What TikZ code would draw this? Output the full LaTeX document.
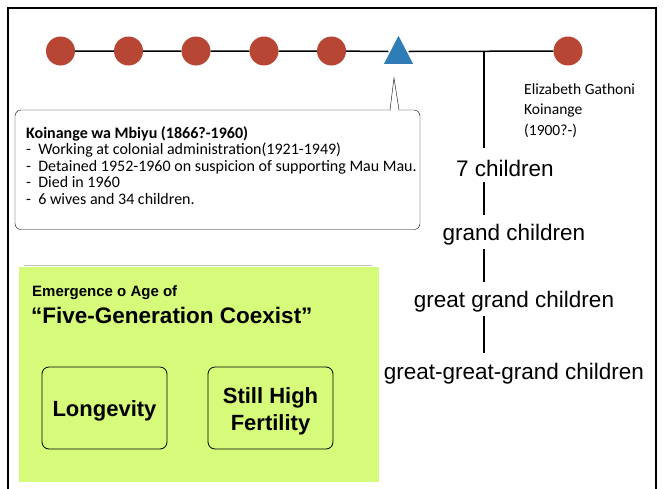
\documentclass[tikz,border=0pt]{standalone}
\usepackage{fontspec}
\setmainfont{Liberation Sans}
\newfontfamily\calibri{Carlito}
\usetikzlibrary{shapes.geometric}
\definecolor{dotred}{RGB}{183,71,52}
\definecolor{triblue}{RGB}{46,125,182}
\definecolor{panelgreen}{RGB}{214,250,122}

\begin{document}
\begin{tikzpicture}[x=1pt,y=-1pt]
    \tikzstyle{dot}=[circle,fill=dotred,minimum size=29pt,inner sep=0pt]
    \tikzstyle{tri}=[isosceles triangle,isosceles triangle stretches,shape border rotate=90,fill=triblue,minimum width=29pt,minimum height=28pt,inner sep=0pt]
    \tikzstyle{gen}=[font=\fontsize{22.5}{26}\selectfont,inner sep=0pt]
    \tikzstyle{link}=[line width=1.5pt]
    \tikzstyle{factor}=[draw,thick,rounded corners=7pt,minimum width=125pt,minimum height=82pt,align=center,text depth=0pt,font=\bfseries\fontsize{22}{27}\selectfont]
    \useasboundingbox (0,0) rectangle (664,488);
    % frame
    \draw[line width=2pt] (8,490) -- (8,8) -- (656,8) -- (656,490);
    % ancestors line
    \node[dot] (c1) at (60.5,51){};
    \node[dot] (c2) at (128.5,51){};
    \node[dot] (c3) at (196,51){};
    \node[dot] (c4) at (264,51){};
    \node[dot] (c5) at (331.5,51){};
    \node[tri] (k) at (398.5,55){};
    \node[dot] (w) at (568,51){};
    \coordinate (j) at (484,51.5);
    \draw[link] (c1) -- (c2) -- (c3) -- (c4) -- (c5) -- (k.west |- j) (k.east |- j) -- (w);
    \node[anchor=base west,align=left,inner sep=0pt,font=\calibri\fontsize{15.5}{20.5}\selectfont] (eg) at (524,135){Elizabeth Gathoni\\Koinange\\(1900?-)};
    % callout
    \draw[fill=white,rounded corners=6pt] (15,110) rectangle (420,229.5);
    \fill[white] (390.5,108) rectangle (398.5,112);
    \draw (390,110) -- (394,78) -- (399,110);
    \node[anchor=base west,align=left,inner sep=0pt,font=\calibri\fontsize{16}{16.5}\selectfont] (kwm) at (26,204){\textbf{Koinange wa Mbiyu (1866?-1960)}\\
      -\ \ Working at colonial administration(1921-1949)\\
      -\ \ Detained 1952-1960 on suspicion of supporting Mau Mau.\\
      -\ \ Died in 1960\\
      -\ \ 6 wives and 34 children.};
    % generations
    \node[gen] (g1) at (505,168){7 children};
    \node[gen] (g2) at (514,235){grand children};
    \node[gen] (g3) at (514,302){great grand children};
    \node[gen] (g4) at (514,374){great-great-grand children};
    \draw[link] (j) -- (484,148);
    \draw[link] (484,182) -- (484,215);
    \draw[link] (484,249) -- (484,282);
    \draw[link] (484,316) -- (484,353);
    % panel
    \draw[black!25] (24,265.5) -- (372,265.5);
    \fill[panelgreen] (19,267) rectangle (379,482);
    \node[anchor=west,inner sep=0pt,font=\bfseries\fontsize{15}{18}\selectfont] (em) at (32,293){Emergence o Age of};
    \node[anchor=west,inner sep=0pt,font=\bfseries\fontsize{22.5}{26}\selectfont] (fg) at (31,315){``Five-Generation Coexist''};
    \node[factor] (lon) at (104.5,408){\raisebox{-2pt}{Longevity}};
    \node[factor] (fer) at (270.5,408){\raisebox{-2pt}{Still High}\\\raisebox{-2pt}{Fertility}};
\end{tikzpicture}
\end{document}
